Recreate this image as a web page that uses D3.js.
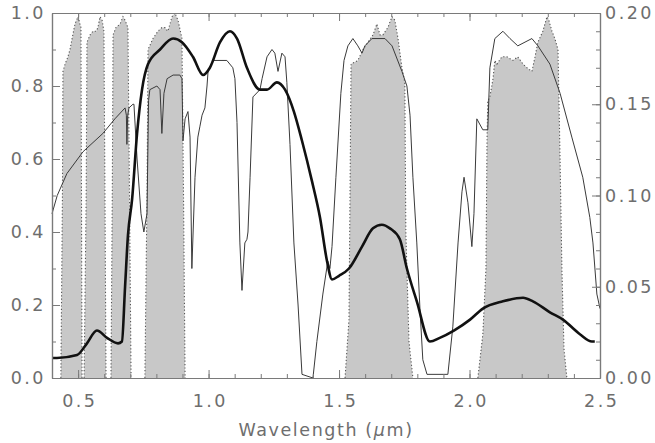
<!DOCTYPE html>
<html><head><meta charset="utf-8">
<script src="https://cdn.jsdelivr.net/npm/d3@7"></script>
<style>
html,body{margin:0;padding:0;background:#fff;}
svg{display:block;}
</style>
</head><body>
<svg id="chart" width="655" height="443"></svg>
<script>
// ---- data ----
const xTicks = [0.5, 1.0, 1.5, 2.0, 2.5];
const yLeftTicks = [0.0, 0.2, 0.4, 0.6, 0.8, 1.0];
const yRightTicks = [0.00, 0.05, 0.10, 0.15, 0.20];

// atmospheric transmittance (left axis)
const transmittance = [
[0.400,0.45],[0.420,0.50],[0.457,0.56],[0.519,0.62],[0.595,0.67],[0.641,0.71],[0.680,0.74],[0.685,0.72],[0.687,0.64],[0.690,0.72],
[0.695,0.74],[0.710,0.75],[0.714,0.75],[0.726,0.60],[0.741,0.45],[0.752,0.40],[0.764,0.45],[0.770,0.76],[0.775,0.79],[0.802,0.80],
[0.814,0.79],[0.821,0.67],[0.829,0.78],[0.841,0.82],[0.864,0.83],[0.890,0.83],[0.898,0.82],[0.902,0.65],[0.910,0.71],[0.921,0.73],
[0.929,0.66],[0.936,0.30],[0.948,0.55],[0.959,0.66],[0.967,0.69],[0.975,0.72],[0.986,0.74],[0.994,0.80],[0.998,0.84],[1.017,0.87],
[1.070,0.87],[1.093,0.85],[1.101,0.82],[1.109,0.70],[1.120,0.37],[1.128,0.24],[1.139,0.37],[1.147,0.38],[1.151,0.40],[1.159,0.55],
[1.170,0.77],[1.197,0.79],[1.205,0.82],[1.224,0.88],[1.243,0.90],[1.254,0.89],[1.266,0.84],[1.281,0.89],[1.293,0.88],[1.300,0.81],
[1.312,0.64],[1.327,0.37],[1.343,0.20],[1.358,0.01],[1.400,0.00],[1.415,0.10],[1.438,0.23],[1.457,0.32],[1.465,0.30],[1.473,0.36],
[1.488,0.55],[1.507,0.78],[1.519,0.87],[1.534,0.91],[1.553,0.93],[1.572,0.91],[1.588,0.89],[1.599,0.91],[1.626,0.93],[1.676,0.93],
[1.703,0.91],[1.741,0.84],[1.760,0.80],[1.772,0.72],[1.783,0.55],[1.798,0.37],[1.810,0.19],[1.821,0.05],[1.837,0.01],[1.917,0.01],
[1.936,0.14],[1.956,0.37],[1.971,0.51],[1.979,0.55],[1.994,0.48],[2.009,0.36],[2.017,0.45],[2.028,0.71],[2.051,0.68],[2.070,0.68],
[2.078,0.85],[2.097,0.93],[2.128,0.95],[2.155,0.93],[2.185,0.91],[2.239,0.93],[2.262,0.91],[2.308,0.86],[2.347,0.78],[2.392,0.66],
[2.434,0.55],[2.461,0.44],[2.473,0.37],[2.488,0.23],[2.500,0.19]
];

// reflectance (right axis)
const reflectance = [
[0.400,0.011],[0.419,0.011],[0.496,0.0126],[0.534,0.019],[0.572,0.026],[0.611,0.022],[0.653,0.019],[0.668,0.020],[0.680,0.050],[0.691,0.078],
[0.707,0.098],[0.726,0.134],[0.745,0.158],[0.768,0.172],[0.814,0.180],[0.864,0.186],[0.898,0.184],[0.940,0.176],[0.979,0.166],[1.005,0.170],
[1.044,0.184],[1.082,0.190],[1.109,0.186],[1.147,0.170],[1.197,0.158],[1.224,0.158],[1.262,0.162],[1.293,0.158],[1.327,0.146],[1.358,0.130],
[1.396,0.108],[1.427,0.088],[1.454,0.064],[1.473,0.054],[1.500,0.056],[1.538,0.060],[1.588,0.072],[1.630,0.082],[1.664,0.084],[1.695,0.082],
[1.733,0.076],[1.760,0.060],[1.798,0.042],[1.848,0.020],[1.886,0.022],[1.940,0.026],[2.002,0.032],[2.051,0.038],[2.128,0.042],[2.205,0.044],
[2.243,0.042],[2.308,0.036],[2.358,0.032],[2.423,0.024],[2.469,0.020],[2.480,0.020]
];

// sensor band spectral responses (left axis)
const band1 = [[0.434,0],[0.440,0.50],[0.442,0.84],[0.450,0.86],[0.461,0.88],[0.469,0.90],[0.477,0.93],[0.488,0.97],[0.500,0.99],[0.507,0.97],[0.511,0.96],[0.513,0.50],[0.515,0]];
const band2 = [[0.523,0],[0.531,0.50],[0.534,0.92],[0.546,0.94],[0.557,0.95],[0.569,0.95],[0.576,0.96],[0.584,0.99],[0.592,0.98],[0.599,0.95],[0.603,0.50],[0.607,0]];
const band3 = [[0.626,0],[0.631,0.50],[0.634,0.94],[0.645,0.96],[0.661,0.97],[0.672,0.99],[0.680,0.98],[0.691,0.96],[0.697,0.50],[0.703,0]];
const band4 = [[0.756,0],[0.764,0.50],[0.768,0.90],[0.787,0.93],[0.806,0.95],[0.821,0.96],[0.833,0.96],[0.844,0.95],[0.860,0.99],[0.871,1.00],[0.883,0.98],[0.898,0.93],[0.904,0.50],[0.910,0]];
const band5 = [[1.523,0],[1.538,0.16],[1.542,0.50],[1.546,0.86],[1.572,0.87],[1.592,0.90],[1.611,0.92],[1.630,0.94],[1.645,0.97],[1.657,0.94],[1.668,0.94],[1.687,0.96],[1.703,0.99],[1.714,0.98],[1.726,0.93],[1.741,0.85],[1.752,0.81],[1.756,0.40],[1.768,0.10],[1.783,0]];
const band6 = [[2.032,0],[2.051,0.12],[2.063,0.30],[2.067,0.65],[2.070,0.76],[2.078,0.77],[2.090,0.82],[2.097,0.87],[2.105,0.86],[2.124,0.88],[2.143,0.88],[2.166,0.87],[2.185,0.88],[2.205,0.86],[2.220,0.85],[2.239,0.84],[2.251,0.88],[2.262,0.92],[2.281,0.95],[2.297,0.99],[2.304,0.98],[2.316,0.95],[2.327,0.93],[2.339,0.90],[2.347,0.60],[2.354,0.30],[2.362,0.08],[2.373,0]];
const bands = [band1, band2, band3, band4, band5, band6];

// ---- drawing ----
const svg = d3.select("#chart");
const L = 52, R = 600, T = 13, B = 378;
const x = d3.scaleLinear().domain([0.4, 2.5]).range([L, R]);
const yL = d3.scaleLinear().domain([0, 1]).range([B, T]);
const yR = d3.scaleLinear().domain([0, 0.2]).range([B, T]);

const axisCol = "#7a7a7a", textCol = "#6e6e6e";
const fontFam = "'DejaVu Sans', sans-serif";

// bands
const area = d3.line().x(d => x(d[0])).y(d => yL(d[1]));
svg.append("g").selectAll("path.bandfill").data(bands).join("path")
  .attr("d", d => area(d) + "Z")
  .attr("fill", "#c8c8c8").attr("stroke", "none");
svg.append("g").selectAll("path.bandedge").data(bands).join("path")
  .attr("d", d => area(d))
  .attr("fill", "none").attr("stroke", "#555").attr("stroke-width", 1.1)
  .attr("stroke-dasharray", "1.2,2.2");

// transmittance thin line
svg.append("path").datum(transmittance)
  .attr("d", d3.line().x(d => x(d[0])).y(d => yL(d[1])))
  .attr("fill", "none").attr("stroke", "#3a3a3a").attr("stroke-width", 1)
  .attr("stroke-linejoin", "round");

// reflectance thick line
svg.append("path").datum(reflectance)
  .attr("d", d3.line().curve(d3.curveMonotoneX).x(d => x(d[0])).y(d => yR(d[1])))
  .attr("fill", "none").attr("stroke", "#111").attr("stroke-width", 2.6)
  .attr("stroke-linejoin", "round");

// axes
function styleAxis(g) {
  g.select(".domain").attr("stroke", axisCol).attr("stroke-width", 1.2);
  g.selectAll(".tick line").attr("stroke", axisCol).attr("stroke-width", 1);
  g.selectAll(".tick text").attr("fill", textCol).attr("font-family", fontFam)
    .attr("font-size", 17.5).attr("letter-spacing", "2.5px");
}
const xMinor = d3.range(5, 26).map(d => d / 10);
const yLMinor = d3.range(0, 11).map(d => d / 10);
const yRMinor = d3.range(0, 21).map(d => d / 100);

// bottom
svg.append("g").attr("transform", `translate(0,${B})`)
  .call(d3.axisBottom(x).tickValues(xMinor).tickSizeInner(-4).tickSizeOuter(0).tickFormat(""))
  .call(styleAxis);
svg.append("g").attr("transform", `translate(0,${B})`)
  .call(d3.axisBottom(x).tickValues(xTicks).tickSizeInner(-8).tickSizeOuter(0).tickPadding(17).tickFormat(d3.format(".1f")))
  .call(styleAxis)
  .call(g => g.selectAll(".tick text").attr("dx", "1.25px"));
// top
svg.append("g").attr("transform", `translate(0,${T})`)
  .call(d3.axisTop(x).tickValues(xMinor).tickSizeInner(-4).tickSizeOuter(0).tickFormat(""))
  .call(styleAxis);
svg.append("g").attr("transform", `translate(0,${T})`)
  .call(d3.axisTop(x).tickValues(xTicks).tickSizeInner(-8).tickSizeOuter(0).tickFormat(""))
  .call(styleAxis);
// left
svg.append("g").attr("transform", `translate(${L},0)`)
  .call(d3.axisLeft(yL).tickValues(yLMinor).tickSizeInner(-4).tickSizeOuter(0).tickFormat(""))
  .call(styleAxis);
svg.append("g").attr("transform", `translate(${L},0)`)
  .call(d3.axisLeft(yL).tickValues(yLeftTicks).tickSizeInner(-8).tickSizeOuter(0).tickPadding(6).tickFormat(d3.format(".1f")))
  .call(styleAxis);
// right
svg.append("g").attr("transform", `translate(${R},0)`)
  .call(d3.axisRight(yR).tickValues(yRMinor).tickSizeInner(-4).tickSizeOuter(0).tickFormat(""))
  .call(styleAxis);
svg.append("g").attr("transform", `translate(${R},0)`)
  .call(d3.axisRight(yR).tickValues(yRightTicks).tickSizeInner(-8).tickSizeOuter(0).tickPadding(5).tickFormat(d3.format(".2f")))
  .call(styleAxis);

// x label
const xl = svg.append("text")
  .attr("x", (L + R) / 2).attr("y", 436)
  .attr("text-anchor", "middle")
  .attr("fill", textCol).attr("font-family", fontFam)
  .attr("font-size", 17.5).attr("letter-spacing", "1.6px");
xl.append("tspan").text("Wavelength (");
xl.append("tspan").attr("font-style", "italic").text("μ");
xl.append("tspan").text("m)");
</script>
</body></html>
